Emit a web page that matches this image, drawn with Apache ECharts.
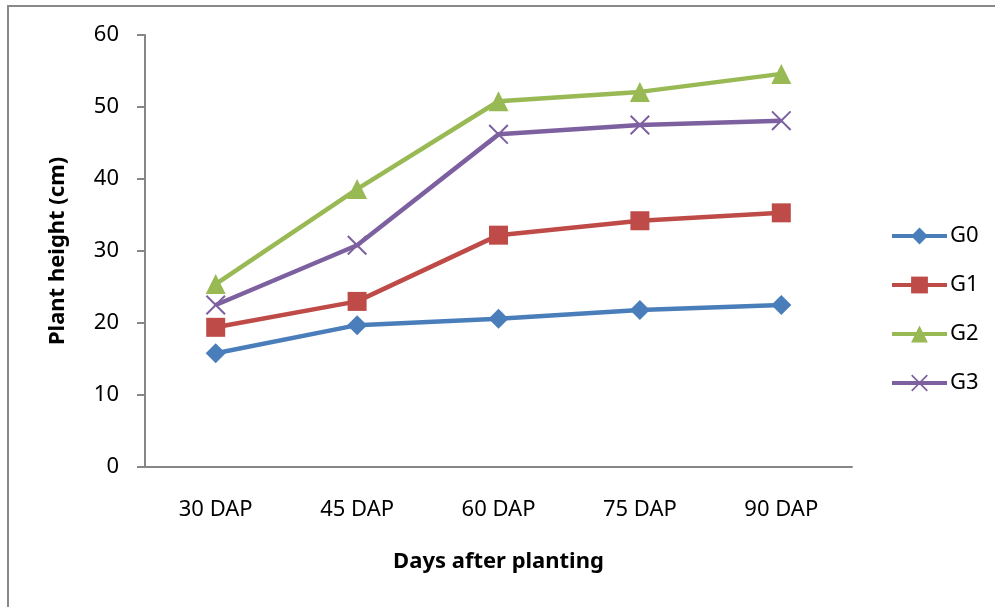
<!DOCTYPE html>
<html>
<head>
<meta charset="utf-8">
<script src="https://cdn.jsdelivr.net/npm/echarts@6/dist/echarts.min.js"></script>
<style>
html,body{margin:0;padding:0;background:#fff;}
#chart{width:995px;height:607px;}
</style>
</head>
<body>
<div id="chart"></div>
<script>
const categories = ['30 DAP', '45 DAP', '60 DAP', '75 DAP', '90 DAP'];
const seriesNames = ['G0', 'G1', 'G2', 'G3'];
const G0 = [15.8, 19.7, 20.6, 21.8, 22.5];
const G1 = [19.4, 23.0, 32.2, 34.2, 35.3];
const G2 = [25.4, 38.6, 50.8, 52.1, 54.6];
const G3 = [22.5, 30.8, 46.2, 47.5, 48.1];
const yTicks = [0, 10, 20, 30, 40, 50, 60];

const colors = ['#4A7EBB', '#BE4B48', '#98B954', '#7D60A0'];
const xPath = 'path://M0,0.7L0.7,0L10,9.3L9.3,10ZM9.3,0L10,0.7L0.7,10L0,9.3Z';
const symbols = ['diamond', 'rect', 'triangle', xPath];
const symbolSizes = [20, 19, 20, 20];
const dataSets = [G0, G1, G2, G3];
const FONT = 'Noto Sans';

const chart = echarts.init(document.getElementById('chart'), null, {renderer: 'canvas'});
chart.setOption({
  animation: false,
  backgroundColor: '#fff',
  graphic: [{
    type: 'rect',
    shape: {x: 8, y: 6, width: 1100, height: 700},
    style: {fill: 'none', stroke: '#898989', lineWidth: 2},
    silent: true
  }],
  grid: {left: 145, right: 143, top: 35, bottom: 140, containLabel: false},
  legend: {
    orient: 'vertical',
    left: 885,
    top: 220,
    padding: 5,
    itemWidth: 55,
    itemHeight: 21,
    itemGap: 27,
    lineStyle: {width: 4},
    textStyle: {fontFamily: FONT, fontSize: 22, color: '#000', lineHeight: 21, padding: [0, 0, 0, -2]},
    data: seriesNames
  },
  xAxis: {
    type: 'category',
    data: categories,
    boundaryGap: true,
    name: 'Days after planting',
    nameLocation: 'middle',
    nameGap: 84,
    nameTextStyle: {fontFamily: FONT, fontSize: 22, fontWeight: 'bold', color: '#000'},
    axisLine: {lineStyle: {color: '#868686', width: 2}},
    axisTick: {show: false},
    axisLabel: {fontFamily: FONT, fontSize: 22, color: '#000', margin: 32}
  },
  yAxis: {
    type: 'value',
    min: 0,
    max: 60,
    interval: 10,
    name: 'Plant height (cm)',
    nameLocation: 'middle',
    nameGap: 76,
    nameTextStyle: {fontFamily: FONT, fontSize: 22, fontWeight: 'bold', color: '#000'},
    axisLine: {show: true, lineStyle: {color: '#868686', width: 2}},
    axisTick: {show: true, length: 8, lineStyle: {color: '#868686', width: 2}},
    axisLabel: {fontFamily: FONT, fontSize: 22, color: '#000', margin: 26,
      formatter: v => yTicks.indexOf(v) >= 0 ? String(v) : ''},
    splitLine: {show: false}
  },
  series: seriesNames.map((n, i) => ({
    name: n,
    type: 'line',
    data: dataSets[i],
    symbol: symbols[i],
    symbolSize: symbolSizes[i],
    showAllSymbol: true,
    lineStyle: {color: colors[i], width: 4.5},
    itemStyle: {color: colors[i]},
    z: 2 + i
  }))
});
</script>
</body>
</html>
